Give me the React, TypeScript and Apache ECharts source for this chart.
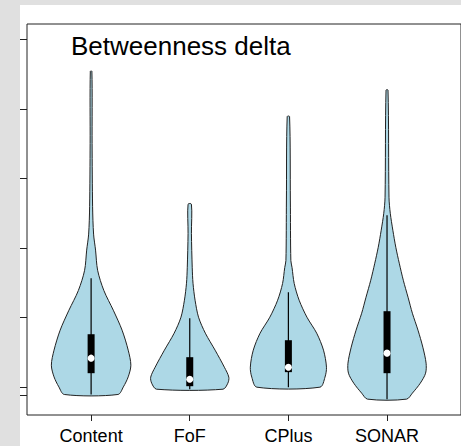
import React, { useEffect, useRef } from "react";
import * as echarts from "echarts";

// Categories along the x axis (placed at x = 1, 2, 3, 4)
const categories = ["Content", "FoF", "CPlus", "SONAR"];

// Box-plot summary per method
const maxValues = [4.54, 2.63, 3.89, 4.27];
const minValues = [-0.105, -0.029, 0, -0.172];
const whiskerHigh = [1.566, 0.99, 1.365, 2.47];
const q3Values = [0.761, 0.431, 0.675, 1.092];
const medians = [0.417, 0.115, 0.287, 0.489];
const q1Values = [0.201, 0.014, 0.216, 0.201];

// Violin outlines: [value, half width in category units], top to bottom
const contentProfile = [
  [4.54, 0.008], [3.5, 0.01], [2.6, 0.015], [2.2, 0.025], [1.97, 0.045],
  [1.68, 0.066], [1.39, 0.129], [1.106, 0.225], [0.819, 0.314], [0.532, 0.376],
  [0.316, 0.403], [0.148, 0.376], [0.004, 0.327], [-0.105, 0.272],
];
const fofProfile = [
  [2.63, 0.017], [2.21, 0.017], [1.724, 0.025], [1.494, 0.033], [1.25, 0.054],
  [1.006, 0.089], [0.776, 0.158], [0.532, 0.257], [0.287, 0.351], [0.144, 0.396],
  [0.057, 0.386], [-0.029, 0.337],
];
const cplusProfile = [
  [3.89, 0.012], [2.69, 0.02], [1.82, 0.025], [1.72, 0.037], [1.49, 0.059],
  [1.25, 0.109], [1.006, 0.188], [0.776, 0.287], [0.532, 0.356], [0.287, 0.386],
  [0.144, 0.371], [0.0, 0.32],
];
const sonarProfile = [
  [4.27, 0.01], [2.73, 0.02], [2.5, 0.033], [2.256, 0.059], [2.011, 0.089],
  [1.782, 0.124], [1.537, 0.165], [1.293, 0.213], [1.063, 0.257], [0.819, 0.314],
  [0.575, 0.363], [0.345, 0.396], [0.201, 0.391], [0.057, 0.337], [-0.086, 0.257],
  [-0.172, 0.198],
];
const profiles = [contentProfile, fofProfile, cplusProfile, sonarProfile];

// Y-axis tick positions (unlabelled)
const yTicks = [-0.115, 0, 1, 2, 3, 4, 5];

const categoryPositions = categories.map((_, i) => i + 1);

export default function App() {
  const ref = useRef<HTMLDivElement>(null);

  useEffect(() => {
    if (!ref.current) return;
    const chart = echarts.init(ref.current, undefined, { renderer: "svg" });

    const renderItem = (params: any, api: any) => {
      const i = params.dataIndex;
      const cx = categoryPositions[i];
      const prof = profiles[i];
      const right = prof.map(([v, w]) => api.coord([cx + w, v]));
      const left = prof
        .slice()
        .reverse()
        .map(([v, w]) => api.coord([cx - w, v]));
      const pts = right.concat(left);
      const c = (v: number) => api.coord([cx, v]);
      const wTop = c(whiskerHigh[i]);
      const wBot = c(minValues[i]);
      const b3 = c(q3Values[i]);
      const b1 = c(q1Values[i]);
      const med = c(medians[i]);
      return {
        type: "group",
        children: [
          {
            type: "polygon",
            shape: { points: pts, smooth: 0.3 },
            style: { fill: "#add8e6", stroke: "#222", lineWidth: 1 },
          },
          {
            type: "line",
            shape: { x1: wTop[0], y1: wTop[1], x2: wBot[0], y2: wBot[1] },
            style: { stroke: "#000", lineWidth: 1.2 },
          },
          {
            type: "rect",
            shape: { x: b3[0] - 3.5, y: b3[1], width: 7, height: b1[1] - b3[1] },
            style: { fill: "#000" },
          },
          {
            type: "circle",
            shape: { cx: med[0], cy: med[1], r: 3.5 },
            style: { fill: "#fff" },
          },
        ],
      };
    };

    chart.setOption({
      animation: false,
      backgroundColor: "#ffffff",
      title: {
        text: "Betweenness delta",
        left: 51,
        top: 28,
        padding: 0,
        textStyle: {
          fontFamily: "'Liberation Sans', Arial, sans-serif",
          fontSize: 26,
          fontWeight: "normal",
          color: "#000",
        },
      },
      grid: {
        left: 7,
        top: 19,
        right: -10.4,
        bottom: 31,
        show: true,
        borderColor: "#222",
        borderWidth: 1,
      },
      xAxis: {
        type: "value",
        min: 0.35,
        max: 4.75,
        splitLine: { show: false },
        axisLine: { show: false, onZero: false },
        axisTick: {
          show: true,
          length: 6,
          customValues: categoryPositions,
          lineStyle: { color: "#222", width: 1 },
        },
        axisLabel: {
          customValues: categoryPositions,
          formatter: (v: number) => categories[Math.round(v) - 1] ?? "",
          margin: 12,
          fontSize: 18,
          fontFamily: "'Liberation Sans', Arial, sans-serif",
          color: "#000",
        },
      },
      yAxis: {
        type: "value",
        min: -0.4,
        max: 5.22,
        splitLine: { show: false },
        axisLine: { show: false, onZero: false },
        axisTick: {
          show: true,
          length: 7,
          customValues: yTicks,
          lineStyle: { color: "#222", width: 1 },
        },
        axisLabel: { show: false },
      },
      series: [
        {
          type: "custom",
          renderItem,
          data: categoryPositions.map((x, i) => [x, maxValues[i]]),
          encode: { x: 0, y: 1 },
        },
      ],
    });

    return () => chart.dispose();
  }, []);

  return (
    <div
      style={{
        position: "absolute",
        left: 0,
        top: 0,
        width: 461,
        height: 446,
        background: "#e0e0e0",
        overflow: "hidden",
      }}
    >
      <div
        ref={ref}
        style={{
          position: "absolute",
          left: 20,
          top: 5,
          width: 441,
          height: 441,
          background: "#ffffff",
        }}
      />
    </div>
  );
}
